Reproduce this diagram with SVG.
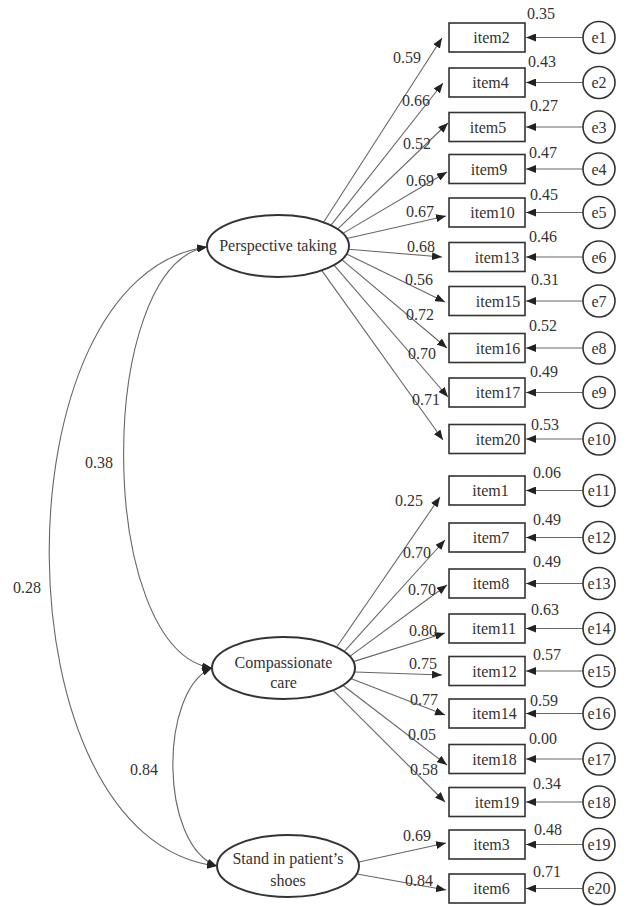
<svg xmlns="http://www.w3.org/2000/svg" width="642" height="906" viewBox="0 0 642 906" font-family="'Liberation Serif', 'DejaVu Serif', serif">
<style>
text{font-family:'Liberation Serif','DejaVu Serif',serif;font-size:16px;fill:#333;text-anchor:middle}
.box{fill:#fff;stroke:#333;stroke-width:1.6}
.lat{fill:#fff;stroke:#333;stroke-width:2}
.err{fill:#fff;stroke:#333;stroke-width:1.6}
.ln{fill:none;stroke:#666;stroke-width:1.1;marker-end:url(#ah)}
.cov{fill:none;stroke:#666;stroke-width:1.1;marker-end:url(#ah);marker-start:url(#ah)}
</style>
<defs>
<marker id="ah" viewBox="0 0 10 8" refX="10" refY="4" markerWidth="10" markerHeight="8" markerUnits="userSpaceOnUse" orient="auto-start-reverse">
<path d="M0,0 L10,4 L0,8 z" fill="#222"/>
</marker>
</defs>
<rect width="642" height="906" fill="#fff"/>

<g id="connectors">
<path class="cov" d="M207,247 C95,265 95,650 212,668"/>
<path class="cov" d="M207,247 C-5,275 -5,840 217,866"/>
<path class="cov" d="M212,668 C159,690 159,845 217,866"/>
<line class="ln" x1="323.6" y1="222.3" x2="442" y2="38"/>
<line class="ln" x1="330.8" y1="225.3" x2="443" y2="83"/>
<line class="ln" x1="337.6" y1="229.1" x2="448" y2="123"/>
<line class="ln" x1="342.9" y1="233.4" x2="447" y2="172"/>
<line class="ln" x1="346.9" y1="238.5" x2="446" y2="216"/>
<line class="ln" x1="348.6" y1="249.3" x2="442" y2="257"/>
<line class="ln" x1="346.6" y1="254" x2="445" y2="302"/>
<line class="ln" x1="341.8" y1="259.6" x2="447" y2="348"/>
<line class="ln" x1="334" y1="265.1" x2="448" y2="397"/>
<line class="ln" x1="321.7" y1="270.4" x2="443" y2="440"/>
<line class="ln" x1="336.6" y1="647.3" x2="440" y2="497"/>
<line class="ln" x1="344.1" y1="651.6" x2="445" y2="540"/>
<line class="ln" x1="349.8" y1="656.4" x2="447" y2="585"/>
<line class="ln" x1="353.4" y1="661.6" x2="445" y2="633"/>
<line class="ln" x1="355" y1="672" x2="442" y2="675"/>
<line class="ln" x1="350.7" y1="678.6" x2="445" y2="715"/>
<line class="ln" x1="342.8" y1="685.3" x2="447" y2="765"/>
<line class="ln" x1="333.2" y1="690.3" x2="445" y2="802"/>
<line class="ln" x1="359" y1="862" x2="446" y2="843"/>
<line class="ln" x1="357" y1="874" x2="446" y2="890"/>
<line class="ln" x1="583" y1="37.5" x2="526" y2="37.5"/>
<line class="ln" x1="583" y1="82.5" x2="526" y2="82.5"/>
<line class="ln" x1="583" y1="127" x2="526" y2="127"/>
<line class="ln" x1="583" y1="169" x2="526" y2="169"/>
<line class="ln" x1="583" y1="212.5" x2="526" y2="212.5"/>
<line class="ln" x1="583" y1="257" x2="526" y2="257"/>
<line class="ln" x1="583" y1="301" x2="526" y2="301"/>
<line class="ln" x1="583" y1="348" x2="526" y2="348"/>
<line class="ln" x1="583" y1="392.5" x2="526" y2="392.5"/>
<line class="ln" x1="583" y1="439" x2="526" y2="439"/>
<line class="ln" x1="583" y1="490.5" x2="526" y2="490.5"/>
<line class="ln" x1="583" y1="537.5" x2="526" y2="537.5"/>
<line class="ln" x1="583" y1="583.5" x2="526" y2="583.5"/>
<line class="ln" x1="583" y1="628.5" x2="526" y2="628.5"/>
<line class="ln" x1="583" y1="671" x2="526" y2="671"/>
<line class="ln" x1="583" y1="713.5" x2="526" y2="713.5"/>
<line class="ln" x1="583" y1="759" x2="526" y2="759"/>
<line class="ln" x1="583" y1="802" x2="526" y2="802"/>
<line class="ln" x1="583" y1="844.5" x2="526" y2="844.5"/>
<line class="ln" x1="583" y1="888.5" x2="526" y2="888.5"/>
<text x="99" y="468">0.38</text>
<text x="27" y="593">0.28</text>
<text x="144" y="775">0.84</text>
<text x="407" y="63">0.59</text>
<text x="416" y="106">0.66</text>
<text x="417" y="149">0.52</text>
<text x="420" y="186">0.69</text>
<text x="420" y="217">0.67</text>
<text x="421" y="252">0.68</text>
<text x="419" y="285">0.56</text>
<text x="420" y="320">0.72</text>
<text x="422" y="359">0.70</text>
<text x="426" y="405">0.71</text>
<text x="409" y="506">0.25</text>
<text x="417" y="558">0.70</text>
<text x="422" y="595">0.70</text>
<text x="423" y="636">0.80</text>
<text x="423" y="669">0.75</text>
<text x="424" y="705">0.77</text>
<text x="422" y="740">0.05</text>
<text x="424" y="775">0.58</text>
<text x="417" y="841">0.69</text>
<text x="419" y="886">0.84</text>
</g>

<g id="perspective_taking">
<ellipse class="lat" cx="278" cy="246" rx="71" ry="31"/>
<text x="278" y="251">Perspective taking</text>
</g>
<g id="compassionate_care">
<ellipse class="lat" cx="283.5" cy="668" rx="71.5" ry="31"/>
<text x="283.5" y="668">Compassionate</text>
<text x="283.5" y="688">care</text>
</g>
<g id="stand_in_patients_shoes">
<ellipse class="lat" cx="288" cy="866" rx="71" ry="31"/>
<text x="288" y="864">Stand in patient’s</text>
<text x="288" y="886">shoes</text>
</g>

<g id="item2"><rect class="box" x="449" y="23" width="76" height="29"/><text x="491.5" y="43">item2</text><text x="541" y="19">0.35</text></g>
<g id="item4"><rect class="box" x="449" y="68" width="76" height="29"/><text x="490.5" y="88">item4</text><text x="542" y="67">0.43</text></g>
<g id="item5"><rect class="box" x="449" y="112.5" width="76" height="29"/><text x="488" y="132.5">item5</text><text x="544" y="111">0.27</text></g>
<g id="item9"><rect class="box" x="449" y="154.5" width="76" height="29"/><text x="489" y="174.5">item9</text><text x="543" y="158">0.47</text></g>
<g id="item10"><rect class="box" x="449" y="198" width="76" height="29"/><text x="492.5" y="218">item10</text><text x="544" y="200">0.45</text></g>
<g id="item13"><rect class="box" x="449" y="242.5" width="76" height="29"/><text x="497" y="262.5">item13</text><text x="543" y="242">0.46</text></g>
<g id="item15"><rect class="box" x="449" y="286.5" width="76" height="29"/><text x="498" y="306.5">item15</text><text x="545" y="285">0.31</text></g>
<g id="item16"><rect class="box" x="449" y="333.5" width="76" height="29"/><text x="498" y="353.5">item16</text><text x="543" y="331">0.52</text></g>
<g id="item17"><rect class="box" x="449" y="378" width="76" height="29"/><text x="498" y="398">item17</text><text x="544" y="377">0.49</text></g>
<g id="item20"><rect class="box" x="449" y="424.5" width="76" height="29"/><text x="498" y="444.5">item20</text><text x="545" y="430">0.53</text></g>
<g id="item1"><rect class="box" x="449" y="476" width="76" height="29"/><text x="490.5" y="496">item1</text><text x="547" y="478">0.06</text></g>
<g id="item7"><rect class="box" x="449" y="523" width="76" height="29"/><text x="491" y="543">item7</text><text x="547" y="525">0.49</text></g>
<g id="item8"><rect class="box" x="449" y="569" width="76" height="29"/><text x="491" y="589">item8</text><text x="547" y="567">0.49</text></g>
<g id="item11"><rect class="box" x="449" y="614" width="76" height="29"/><text x="494" y="634">item11</text><text x="545" y="615">0.63</text></g>
<g id="item12"><rect class="box" x="449" y="656.5" width="76" height="29"/><text x="494.5" y="676.5">item12</text><text x="547" y="660">0.57</text></g>
<g id="item14"><rect class="box" x="449" y="699" width="76" height="29"/><text x="494.5" y="719">item14</text><text x="544" y="706">0.59</text></g>
<g id="item18"><rect class="box" x="449" y="744.5" width="76" height="29"/><text x="494.5" y="764.5">item18</text><text x="543" y="744">0.00</text></g>
<g id="item19"><rect class="box" x="449" y="787.5" width="76" height="29"/><text x="497" y="807.5">item19</text><text x="547" y="789">0.34</text></g>
<g id="item3"><rect class="box" x="449" y="830" width="76" height="29"/><text x="491.5" y="850">item3</text><text x="548" y="835">0.48</text></g>
<g id="item6"><rect class="box" x="449" y="874" width="76" height="29"/><text x="491.5" y="894">item6</text><text x="547" y="877">0.71</text></g>

<g id="e1"><circle class="err" cx="599" cy="37.5" r="16"/><text x="599" y="43">e1</text></g>
<g id="e2"><circle class="err" cx="599" cy="82.5" r="16"/><text x="599" y="88">e2</text></g>
<g id="e3"><circle class="err" cx="599" cy="127" r="16"/><text x="599" y="132.5">e3</text></g>
<g id="e4"><circle class="err" cx="599" cy="169" r="16"/><text x="599" y="174.5">e4</text></g>
<g id="e5"><circle class="err" cx="599" cy="212.5" r="16"/><text x="599" y="218">e5</text></g>
<g id="e6"><circle class="err" cx="599" cy="257" r="16"/><text x="599" y="262.5">e6</text></g>
<g id="e7"><circle class="err" cx="599" cy="301" r="16"/><text x="599" y="306.5">e7</text></g>
<g id="e8"><circle class="err" cx="599" cy="348" r="16"/><text x="599" y="353.5">e8</text></g>
<g id="e9"><circle class="err" cx="599" cy="392.5" r="16"/><text x="599" y="398">e9</text></g>
<g id="e10"><circle class="err" cx="599" cy="439" r="16"/><text x="599" y="444.5">e10</text></g>
<g id="e11"><circle class="err" cx="599" cy="490.5" r="16"/><text x="599" y="496">e11</text></g>
<g id="e12"><circle class="err" cx="599" cy="537.5" r="16"/><text x="599" y="543">e12</text></g>
<g id="e13"><circle class="err" cx="599" cy="583.5" r="16"/><text x="599" y="589">e13</text></g>
<g id="e14"><circle class="err" cx="599" cy="628.5" r="16"/><text x="599" y="634">e14</text></g>
<g id="e15"><circle class="err" cx="599" cy="671" r="16"/><text x="599" y="676.5">e15</text></g>
<g id="e16"><circle class="err" cx="599" cy="713.5" r="16"/><text x="599" y="719">e16</text></g>
<g id="e17"><circle class="err" cx="599" cy="759" r="16"/><text x="599" y="764.5">e17</text></g>
<g id="e18"><circle class="err" cx="599" cy="802" r="16"/><text x="599" y="807.5">e18</text></g>
<g id="e19"><circle class="err" cx="599" cy="844.5" r="16"/><text x="599" y="850">e19</text></g>
<g id="e20"><circle class="err" cx="599" cy="888.5" r="16"/><text x="599" y="894">e20</text></g>
</svg>
